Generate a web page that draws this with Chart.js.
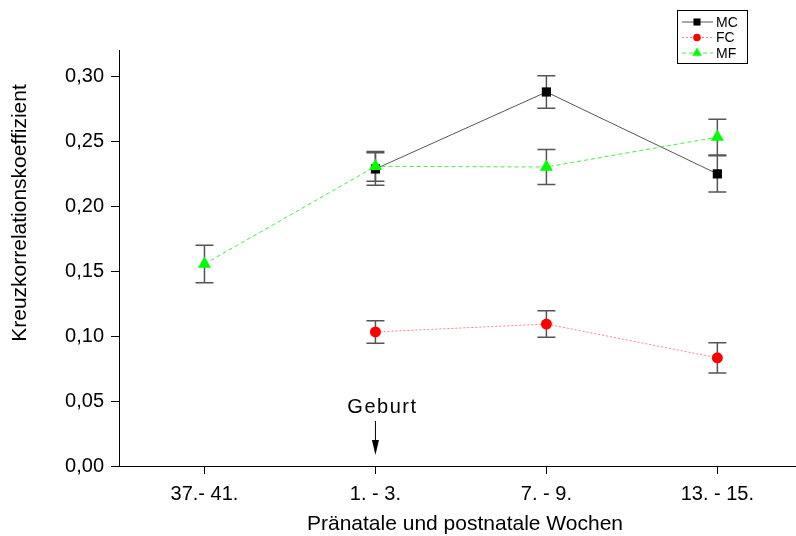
<!DOCTYPE html>
<html>
<head>
<meta charset="utf-8">
<script src="https://cdn.jsdelivr.net/npm/chart.js@4.4.0/dist/chart.umd.min.js"></script>
<style>
  body { margin: 0; background: #fff; }
  #wrap { width: 796px; height: 536px; }
</style>
</head>
<body>
<div id="wrap"><canvas id="mycanvas" width="796" height="536"></canvas></div>
<script>
// Wochen (x categories)
var weeks = ['37.- 41.', '1. - 3.', '7. - 9.', '13. - 15.'];
var yTicks = [0, 0.05, 0.10, 0.15, 0.20, 0.25, 0.30];

// mean values + error (+/-) per week
var mcValues = [null, 0.2285, 0.2877, 0.2247];
var mcErr    = [null, 0.0125, 0.0125, 0.0140];
var fcValues = [null, 0.1031, 0.1092, 0.0832];
var fcErr    = [null, 0.0087, 0.0102, 0.0117];
var mfValues = [0.1554, 0.2305, 0.2300, 0.2530];
var mfErr    = [0.0144, 0.0115, 0.0135, 0.0137];

var FONT = 'Arial, "Liberation Sans", sans-serif';

function toPoints(values) {
  return values.map(function (v, i) { return { x: i, y: v }; });
}

var series = [
  { label: 'MC', values: mcValues, err: mcErr, color: '#000000', line: '#555555', dash: [], style: 'rect', r: 6.5, lr: 5, order: 2 },
  { label: 'FC', values: fcValues, err: fcErr, color: '#ff0000', line: '#ff8080', dash: [2, 2], style: 'circle', r: 5.5, lr: 3.8, order: 1 },
  { label: 'MF', values: mfValues, err: mfErr, color: '#00ff00', line: '#44ee44', dash: [4, 3], style: 'triangle', r: 7.5, lr: 5.5, order: 0 }
];

// error bars below the lines and markers
var errorBars = {
  id: 'errorBars',
  beforeDatasetsDraw: function (chart) {
    var ctx = chart.ctx, xs = chart.scales.x, ys = chart.scales.y;
    ctx.save();
    ctx.strokeStyle = '#555555';
    ctx.lineWidth = 1.5;
    series.forEach(function (s) {
      s.values.forEach(function (v, i) {
        if (v == null) return;
        var x = xs.getPixelForValue(i);
        var top = ys.getPixelForValue(v + s.err[i]);
        var bot = ys.getPixelForValue(v - s.err[i]);
        ctx.beginPath();
        ctx.moveTo(x, top); ctx.lineTo(x, bot);
        ctx.moveTo(x - 9, top); ctx.lineTo(x + 9, top);
        ctx.moveTo(x - 9, bot); ctx.lineTo(x + 9, bot);
        ctx.stroke();
      });
    });
    ctx.restore();
  }
};

// titles, legend box, Geburt arrow
var extras = {
  id: 'extras',
  afterDraw: function (chart) {
    var ctx = chart.ctx, xs = chart.scales.x;
    ctx.save();
    ctx.fillStyle = '#000';
    ctx.font = '21px ' + FONT;
    ctx.textAlign = 'center';
    ctx.textBaseline = 'middle';
    ctx.fillText('Pränatale und postnatale Wochen', 465, 524);

    ctx.save();
    ctx.translate(20, 213);
    ctx.rotate(-Math.PI / 2);
    ctx.fillText('Kreuzkorrelationskoeffizient', 0, 0);
    ctx.restore();

    // Geburt
    var gx = xs.getPixelForValue(1);
    ctx.font = '20px ' + FONT;
    ctx.letterSpacing = '1.5px';
    ctx.fillText('Geburt', gx + 7, 407);
    ctx.letterSpacing = '0px';
    ctx.strokeStyle = '#000';
    ctx.lineWidth = 1;
    ctx.beginPath();
    ctx.moveTo(gx, 421); ctx.lineTo(gx, 441);
    ctx.stroke();
    ctx.beginPath();
    ctx.moveTo(gx - 3.5, 440); ctx.lineTo(gx + 3.5, 440); ctx.lineTo(gx, 455);
    ctx.closePath();
    ctx.fill();

    // legend
    ctx.strokeStyle = '#000';
    ctx.strokeRect(677.5, 10.5, 70, 53);
    ctx.font = '14px ' + FONT;
    ctx.textAlign = 'left';
    series.forEach(function (s, k) {
      var y = 22 + k * 15.5;
      ctx.save();
      ctx.strokeStyle = s.line;
      ctx.setLineDash(s.dash);
      ctx.beginPath();
      ctx.moveTo(682, y); ctx.lineTo(713, y);
      ctx.stroke();
      ctx.restore();
      ctx.fillStyle = s.color;
      Chart.helpers.drawPoint(ctx, { pointStyle: s.style, radius: s.lr, rotation: 0, borderWidth: 0 }, 697, y);
      ctx.fillStyle = '#000';
      ctx.fillText(s.label, 716, y + 1);
    });
    ctx.restore();
  }
};

var ctx = document.getElementById('mycanvas');
var chart = new Chart(ctx, {
  type: 'line',
  data: {
    datasets: series.map(function (s) {
      return {
        label: s.label,
        data: toPoints(s.values),
        borderColor: s.line,
        borderWidth: 1,
        borderDash: s.dash,
        backgroundColor: s.color,
        pointBackgroundColor: s.color,
        pointBorderColor: s.color,
        pointBorderWidth: 0,
        pointStyle: s.style,
        pointRadius: s.r,
        pointHoverRadius: s.r,
        tension: 0,
        order: s.order
      };
    })
  },
  options: {
    responsive: false,
    animation: false,
    layout: { autoPadding: false, padding: { top: 50, right: 0, left: 0, bottom: 0 } },
    plugins: { legend: { display: false }, tooltip: { enabled: false } },
    scales: {
      x: {
        type: 'linear',
        min: -0.5,
        max: 3.46,
        afterBuildTicks: function (scale) {
          scale.ticks = weeks.map(function (w, i) { return { value: i }; });
        },
        afterFit: function (scale) {
          scale.height = 70;
          scale.paddingLeft = 0;
          scale.paddingRight = 0;
        },
        ticks: {
          color: '#000',
          font: { family: FONT, size: 20 },
          padding: 8,
          maxRotation: 0,
          autoSkip: false,
          callback: function (v) { return weeks[v]; }
        },
        grid: { drawOnChartArea: false, drawTicks: true, tickLength: 8, tickColor: '#000' },
        border: { display: true, color: '#000', width: 1 }
      },
      y: {
        min: 0,
        max: 0.32,
        afterBuildTicks: function (scale) {
          scale.ticks = yTicks.map(function (v) { return { value: v }; });
        },
        afterFit: function (scale) { scale.width = 119; },
        ticks: {
          color: '#000',
          font: { family: FONT, size: 20 },
          padding: 7,
          callback: function (v) { return v.toFixed(2).replace('.', ','); }
        },
        grid: { drawOnChartArea: false, drawTicks: true, tickLength: 8, tickColor: '#000' },
        border: { display: true, color: '#000', width: 1 }
      }
    }
  },
  plugins: [errorBars, extras]
});
</script>
</body>
</html>
